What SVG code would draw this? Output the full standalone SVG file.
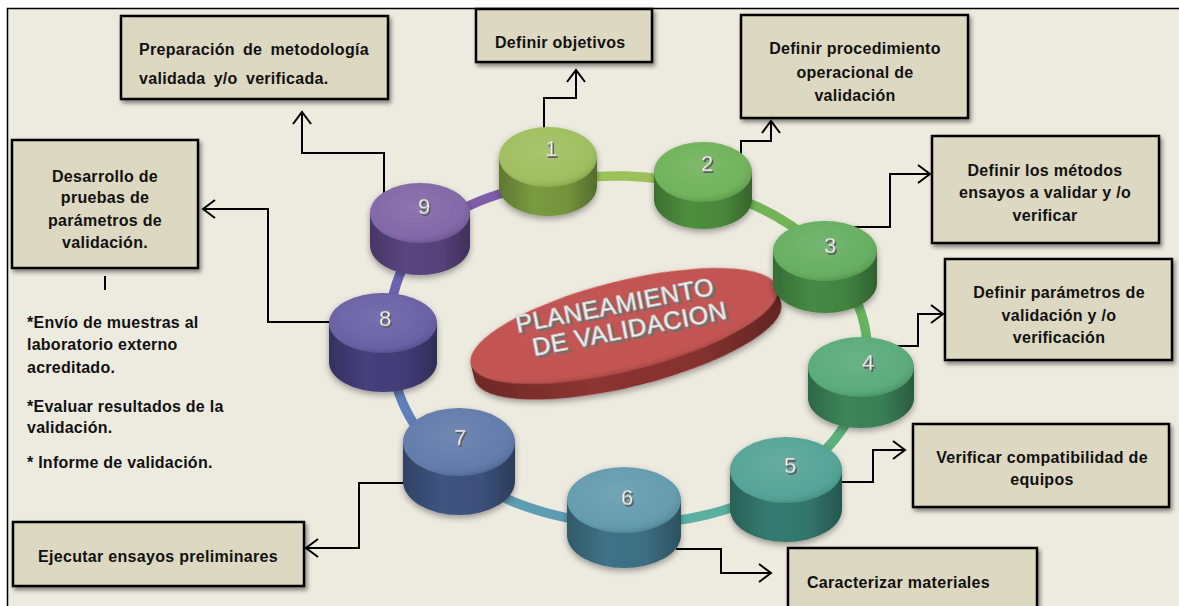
<svg xmlns="http://www.w3.org/2000/svg" width="1179" height="606" viewBox="0 0 1179 606">
  <defs>
    <style>
      .box { fill: #DDD8C2; stroke: #000; stroke-width: 2.5; filter: url(#boxShadow); }
      .lbl { font-family: "Liberation Sans", Arial, sans-serif; font-weight: bold; font-size: 16px; letter-spacing: 0.3px; fill: #111; }
      .mid { text-anchor: middle; }
      .note { font-family: "Liberation Sans", Arial, sans-serif; font-weight: bold; font-size: 16px; letter-spacing: 0.25px; fill: #111; }
      .conn { fill: none; stroke: #000; stroke-width: 2; marker-end: url(#arrow); }
      .plain { fill: none; stroke: #000; stroke-width: 2; }
      .ring path { fill: none; stroke-width: 9.5; }
      .num { font-family: "Liberation Sans", Arial, sans-serif; font-size: 22px; text-anchor: middle; }
      .numShadow { fill: #5c5c5c; }
      .numFace { fill: #f4f4f4; stroke: #a0a0a0; stroke-width: 0.4; }
      .title { font-family: "Liberation Sans", Arial, sans-serif; font-size: 25px; text-anchor: middle; letter-spacing: 0.5px; }
      .titleDepth { fill: #707070; stroke: #707070; stroke-width: 0.8; }
      .titleFace { fill: #f7f7f7; stroke: #c8c8c8; stroke-width: 0.8; }
    </style>
    <marker id="arrow" markerUnits="userSpaceOnUse" markerWidth="16" markerHeight="22" refX="13" refY="10" orient="auto">
      <path d="M1,1 L13,10 L1,19" fill="none" stroke="#000" stroke-width="2"/>
    </marker>
    <filter id="boxShadow" x="-10%" y="-10%" width="125%" height="135%">
      <feDropShadow dx="2" dy="3" stdDeviation="2" flood-color="#000" flood-opacity="0.45"/>
    </filter>
    <filter id="puckShadow" x="-20%" y="-20%" width="140%" height="150%">
      <feDropShadow dx="0" dy="3" stdDeviation="3" flood-color="#000" flood-opacity="0.35"/>
    </filter>
    <linearGradient id="sideShade" x1="0" y1="0" x2="1" y2="0">
      <stop offset="0" stop-color="#000" stop-opacity="0.22"/>
      <stop offset="0.35" stop-color="#000" stop-opacity="0"/>
      <stop offset="0.7" stop-color="#000" stop-opacity="0.05"/>
      <stop offset="1" stop-color="#000" stop-opacity="0.3"/>
    </linearGradient>
    <radialGradient id="topShade" cx="0.45" cy="0.4" r="0.62">
      <stop offset="0" stop-color="#fff" stop-opacity="0.14"/>
      <stop offset="0.78" stop-color="#fff" stop-opacity="0.06"/>
      <stop offset="1" stop-color="#000" stop-opacity="0.12"/>
    </radialGradient>
    <radialGradient id="ovalShade" cx="0.5" cy="0.4" r="0.6">
      <stop offset="0" stop-color="#fff" stop-opacity="0.05"/>
      <stop offset="0.85" stop-color="#fff" stop-opacity="0.03"/>
      <stop offset="1" stop-color="#000" stop-opacity="0.12"/>
    </radialGradient>
  </defs>

  <!-- page and frame -->
  <rect x="0" y="0" width="1179" height="606" fill="#fff"/>
  <rect x="7" y="8" width="1172" height="598" fill="#EDEAE0"/>
  <path d="M7.5,606 V8.5 H1179" fill="none" stroke="#000" stroke-width="1.5"/>

  <!-- ring joining the steps -->
  <g class="ring" id="ring">
    <path stroke="#7E5EA8" d="M430,228 A238,172 0 0 1 548,183"/>
    <path stroke="#9DC15A" d="M548,183 A238,172 0 0 1 703,188"/>
    <path stroke="#72B457" d="M703,188 A238,172 0 0 1 832,262"/>
    <path stroke="#66B35F" d="M832,262 A238,172 0 0 1 863,385"/>
    <path stroke="#5BAF7C" d="M863,385 A238,172 0 0 1 781,485"/>
    <path stroke="#5AAF9E" d="M781,485 A238,172 0 0 1 624,524"/>
    <path stroke="#5D9CB2" d="M624,524 A238,172 0 0 1 451,465"/>
    <path stroke="#5F7FB8" d="M451,465 A238,172 0 0 1 392,346"/>
    <path stroke="#6B64AF" d="M392,346 A238,172 0 0 1 430,228"/>
  </g>

  <!-- central disc -->
  <g id="core">
    <g transform="rotate(-14 624 326)" filter="url(#puckShadow)">
      <path d="M466,326 V342 A158,45 0 0 0 782,342 V326 Z" fill="#8C3431"/>
      <path d="M466,326 V342 A158,45 0 0 0 782,342 V326 Z" fill="url(#sideShade)"/>
      <ellipse cx="624" cy="326" rx="158" ry="45" fill="#C04F4C"/>
      <ellipse cx="624" cy="326" rx="158" ry="45" fill="url(#ovalShade)"/>
    </g>
    <g transform="rotate(-11 625 318)">
      <text class="title titleDepth" x="619.5" y="314.5">PLANEAMIENTO</text>
      <text class="title titleDepth" x="629.5" y="340.5">DE VALIDACION</text>
      <text class="title titleFace" x="617.5" y="312">PLANEAMIENTO</text>
      <text class="title titleFace" x="627.5" y="338">DE VALIDACION</text>
    </g>
  </g>

  <!-- connectors -->
  <g id="connectors">
    <path class="conn" d="M544,128 V98 H576 V70"/>
    <path class="conn" d="M741,161 V141 H771 V121"/>
    <path class="conn" d="M851,227 H890 V174 H930"/>
    <path class="conn" d="M892,346 H918 V314 H943"/>
    <path class="conn" d="M840,482 H873 V450 H905"/>
    <path class="conn" d="M676,549 H721 V573 H771"/>
    <path class="conn" d="M413,483 H359 V548 H306"/>
    <path class="conn" d="M333,322 H268 V209 H203"/>
    <path class="conn" d="M384,195 V153 H302 V112"/>
    <path class="plain" d="M105,276 V290"/>
  </g>

  <!-- steps (drawn back to front) -->
  <g id="step1" filter="url(#puckShadow)">
    <path d="M499,157 V186 A49,30 0 0 0 597,186 V157 Z" fill="#7A9A40"/>
    <path d="M499,157 V186 A49,30 0 0 0 597,186 V157 Z" fill="url(#sideShade)"/>
    <ellipse cx="548" cy="157" rx="49" ry="30" fill="#9BBB57"/>
    <ellipse cx="548" cy="157" rx="49" ry="30" fill="url(#topShade)"/>
    <text class="num numShadow" x="552.5" y="157.5">1</text>
    <text class="num numFace" x="551" y="156">1</text>
  </g>
  <g id="step2" filter="url(#puckShadow)">
    <path d="M654,172 V199 A49,30 0 0 0 752,199 V172 Z" fill="#4E8E3E"/>
    <path d="M654,172 V199 A49,30 0 0 0 752,199 V172 Z" fill="url(#sideShade)"/>
    <ellipse cx="703" cy="172" rx="49" ry="30" fill="#69AE52"/>
    <ellipse cx="703" cy="172" rx="49" ry="30" fill="url(#topShade)"/>
    <text class="num numShadow" x="708.5" y="172.5">2</text>
    <text class="num numFace" x="707" y="171">2</text>
  </g>
  <g id="step9" filter="url(#puckShadow)">
    <path d="M370,213 V245 A50,30 0 0 0 470,245 V213 Z" fill="#5A4580"/>
    <path d="M370,213 V245 A50,30 0 0 0 470,245 V213 Z" fill="url(#sideShade)"/>
    <ellipse cx="420" cy="213" rx="50" ry="30" fill="#7B5FA2"/>
    <ellipse cx="420" cy="213" rx="50" ry="30" fill="url(#topShade)"/>
    <text class="num numShadow" x="425.5" y="215.5">9</text>
    <text class="num numFace" x="424" y="214">9</text>
  </g>
  <g id="step3" filter="url(#puckShadow)">
    <path d="M773,251 V283 A52,30 0 0 0 877,283 V251 Z" fill="#458A45"/>
    <path d="M773,251 V283 A52,30 0 0 0 877,283 V251 Z" fill="url(#sideShade)"/>
    <ellipse cx="825" cy="251" rx="52" ry="30" fill="#5EAA59"/>
    <ellipse cx="825" cy="251" rx="52" ry="30" fill="url(#topShade)"/>
    <text class="num numShadow" x="831.5" y="254.5">3</text>
    <text class="num numFace" x="830" y="253">3</text>
  </g>
  <g id="step8" filter="url(#puckShadow)">
    <path d="M329,323 V362 A54,30 0 0 0 437,362 V323 Z" fill="#463F7C"/>
    <path d="M329,323 V362 A54,30 0 0 0 437,362 V323 Z" fill="url(#sideShade)"/>
    <ellipse cx="383" cy="323" rx="54" ry="30" fill="#6258A0"/>
    <ellipse cx="383" cy="323" rx="54" ry="30" fill="url(#topShade)"/>
    <text class="num numShadow" x="386.5" y="327.5">8</text>
    <text class="num numFace" x="385" y="326">8</text>
  </g>
  <g id="step4" filter="url(#puckShadow)">
    <path d="M808,367 V398 A53,30 0 0 0 914,398 V367 Z" fill="#3C845A"/>
    <path d="M808,367 V398 A53,30 0 0 0 914,398 V367 Z" fill="url(#sideShade)"/>
    <ellipse cx="861" cy="367" rx="53" ry="30" fill="#52A673"/>
    <ellipse cx="861" cy="367" rx="53" ry="30" fill="url(#topShade)"/>
    <text class="num numShadow" x="869.5" y="371.5">4</text>
    <text class="num numFace" x="868" y="370">4</text>
  </g>
  <g id="step7" filter="url(#puckShadow)">
    <path d="M403,442 V481 A56,34 0 0 0 515,481 V442 Z" fill="#3F5480"/>
    <path d="M403,442 V481 A56,34 0 0 0 515,481 V442 Z" fill="url(#sideShade)"/>
    <ellipse cx="459" cy="442" rx="56" ry="34" fill="#5A74A6"/>
    <ellipse cx="459" cy="442" rx="56" ry="34" fill="url(#topShade)"/>
    <text class="num numShadow" x="461.5" y="446.5">7</text>
    <text class="num numFace" x="460" y="445">7</text>
  </g>
  <g id="step5" filter="url(#puckShadow)">
    <path d="M730,470 V509 A56,33 0 0 0 842,509 V470 Z" fill="#357B70"/>
    <path d="M730,470 V509 A56,33 0 0 0 842,509 V470 Z" fill="url(#sideShade)"/>
    <ellipse cx="786" cy="470" rx="56" ry="33" fill="#4C9F91"/>
    <ellipse cx="786" cy="470" rx="56" ry="33" fill="url(#topShade)"/>
    <text class="num numShadow" x="791.5" y="474.5">5</text>
    <text class="num numFace" x="790" y="473">5</text>
  </g>
  <g id="step6" filter="url(#puckShadow)">
    <path d="M567,500 V535 A57,33 0 0 0 681,535 V500 Z" fill="#3F7387"/>
    <path d="M567,500 V535 A57,33 0 0 0 681,535 V500 Z" fill="url(#sideShade)"/>
    <ellipse cx="624" cy="500" rx="57" ry="33" fill="#5B96A9"/>
    <ellipse cx="624" cy="500" rx="57" ry="33" fill="url(#topShade)"/>
    <text class="num numShadow" x="628.5" y="506.5">6</text>
    <text class="num numFace" x="627" y="505">6</text>
  </g>

  <!-- task boxes -->
  <g id="box-metodologia">
    <rect class="box" x="121" y="16" width="267" height="83"/>
    <text class="lbl" x="139" y="55" word-spacing="3.5">Preparación de metodología</text>
    <text class="lbl" x="139" y="84" word-spacing="3.5">validada y/o verificada.</text>
  </g>
  <g id="box-objetivos">
    <rect class="box" x="476" y="9" width="176" height="53"/>
    <text class="lbl" x="495" y="48">Definir objetivos</text>
  </g>
  <g id="box-procedimiento">
    <rect class="box" x="741" y="15" width="227" height="103"/>
    <text class="lbl mid" x="855" y="54">Definir procedimiento</text>
    <text class="lbl mid" x="855" y="78">operacional de</text>
    <text class="lbl mid" x="855" y="101">validación</text>
  </g>
  <g id="box-metodos">
    <rect class="box" x="932" y="136" width="227" height="107"/>
    <text class="lbl mid" x="1045" y="176">Definir los métodos</text>
    <text class="lbl mid" x="1045" y="198">ensayos a validar y /o</text>
    <text class="lbl mid" x="1045" y="221">verificar</text>
  </g>
  <g id="box-parametros">
    <rect class="box" x="945" y="259" width="227" height="101"/>
    <text class="lbl mid" x="1059" y="298">Definir parámetros de</text>
    <text class="lbl mid" x="1059" y="321">validación y /o</text>
    <text class="lbl mid" x="1059" y="343">verificación</text>
  </g>
  <g id="box-equipos">
    <rect class="box" x="913" y="424" width="256" height="83"/>
    <text class="lbl mid" x="1042" y="463">Verificar compatibilidad de</text>
    <text class="lbl mid" x="1042" y="485">equipos</text>
  </g>
  <g id="box-materiales">
    <rect class="box" x="788" y="548" width="249" height="70"/>
    <text class="lbl" x="807" y="588">Caracterizar materiales</text>
  </g>
  <g id="box-preliminares">
    <rect class="box" x="13" y="522" width="291" height="64"/>
    <text class="lbl mid" x="158" y="562">Ejecutar ensayos preliminares</text>
  </g>
  <g id="box-pruebas">
    <rect class="box" x="12" y="140" width="186" height="128"/>
    <text class="lbl mid" x="105" y="182">Desarrollo de</text>
    <text class="lbl mid" x="105" y="203">pruebas de</text>
    <text class="lbl mid" x="105" y="226">parámetros de</text>
    <text class="lbl mid" x="105" y="248">validación.</text>
  </g>

  <!-- follow-up notes -->
  <g id="notes">
    <text class="note" x="27" y="328">*Envío de muestras al</text>
    <text class="note" x="27" y="350">laboratorio externo</text>
    <text class="note" x="27" y="373">acreditado.</text>
    <text class="note" x="27" y="412">*Evaluar resultados de la</text>
    <text class="note" x="27" y="433">validación.</text>
    <text class="note" x="27" y="468">* Informe de validación.</text>
  </g>
</svg>
